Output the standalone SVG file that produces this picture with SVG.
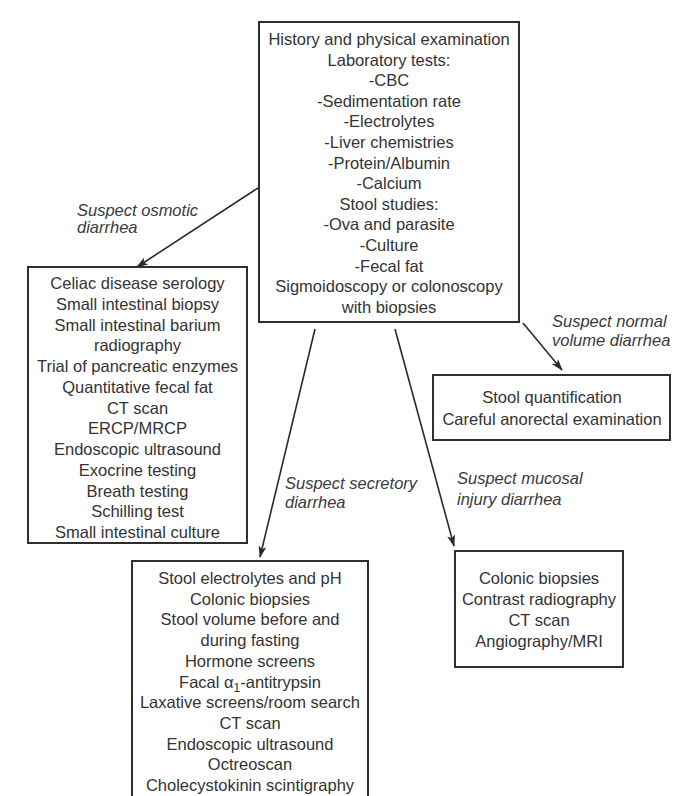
<svg xmlns="http://www.w3.org/2000/svg" width="675" height="796" viewBox="0 0 675 796">
  <defs>
    <marker id="arrow" viewBox="0 0 12 8" refX="11" refY="4" markerWidth="12" markerHeight="8" markerUnits="userSpaceOnUse" orient="auto">
      <path d="M0,0 L12,4 L0,8 L3,4 Z" fill="#2a2a2a"/>
    </marker>
  </defs>
  <style>
    .box { fill: #ffffff; stroke: #2e2e2e; stroke-width: 2; }
    .t { font-family: "Liberation Sans", Arial, sans-serif; font-size: 16.5px; fill: #333333; text-anchor: middle; }
    .lbl { font-family: "Liberation Sans", Arial, sans-serif; font-size: 16.5px; font-style: italic; fill: #3a3a3a; }
    .edge { stroke: #2a2a2a; stroke-width: 1.6; fill: none; marker-end: url(#arrow); }
  </style>
  <rect width="675" height="796" fill="#ffffff"/>

  <g id="connectors">
    <line class="edge" x1="258" y1="188" x2="137" y2="267"/>
    <line class="edge" x1="315" y1="329" x2="260" y2="557"/>
    <line class="edge" x1="395" y1="329" x2="454" y2="546"/>
    <line class="edge" x1="523" y1="323" x2="562" y2="370"/>
  </g>

  <g id="labels">
    <text class="lbl" x="77" y="216">Suspect osmotic</text>
    <text class="lbl" x="77" y="233">diarrhea</text>
    <text class="lbl" x="552" y="327">Suspect normal</text>
    <text class="lbl" x="552" y="346">volume diarrhea</text>
    <text class="lbl" x="285" y="489">Suspect secretory</text>
    <text class="lbl" x="285" y="508">diarrhea</text>
    <text class="lbl" x="457" y="484">Suspect mucosal</text>
    <text class="lbl" x="457" y="505">injury diarrhea</text>
  </g>

  <g id="workup">
    <rect class="box" x="259" y="22" width="260" height="300"/>
    <text class="t" x="389" y="45">History and physical examination</text>
    <text class="t" x="389" y="65.6">Laboratory tests:</text>
    <text class="t" x="389" y="86.2">-CBC</text>
    <text class="t" x="389" y="106.8">-Sedimentation rate</text>
    <text class="t" x="389" y="127.4">-Electrolytes</text>
    <text class="t" x="389" y="148">-Liver chemistries</text>
    <text class="t" x="389" y="168.6">-Protein/Albumin</text>
    <text class="t" x="389" y="189.2">-Calcium</text>
    <text class="t" x="389" y="209.8">Stool studies:</text>
    <text class="t" x="389" y="230.4">-Ova and parasite</text>
    <text class="t" x="389" y="251">-Culture</text>
    <text class="t" x="389" y="271.6">-Fecal fat</text>
    <text class="t" x="389" y="292.2">Sigmoidoscopy or colonoscopy</text>
    <text class="t" x="389" y="312.8">with biopsies</text>
  </g>

  <g id="osmotic">
    <rect class="box" x="28" y="267" width="219" height="276"/>
    <text class="t" x="137.5" y="289">Celiac disease serology</text>
    <text class="t" x="137.5" y="309.75">Small intestinal biopsy</text>
    <text class="t" x="137.5" y="330.5">Small intestinal barium</text>
    <text class="t" x="137.5" y="351.25">radiography</text>
    <text class="t" x="137.5" y="372">Trial of pancreatic enzymes</text>
    <text class="t" x="137.5" y="392.75">Quantitative fecal fat</text>
    <text class="t" x="137.5" y="413.5">CT scan</text>
    <text class="t" x="137.5" y="434.25">ERCP/MRCP</text>
    <text class="t" x="137.5" y="455">Endoscopic ultrasound</text>
    <text class="t" x="137.5" y="475.75">Exocrine testing</text>
    <text class="t" x="137.5" y="496.5">Breath testing</text>
    <text class="t" x="137.5" y="517.25">Schilling test</text>
    <text class="t" x="137.5" y="538">Small intestinal culture</text>
  </g>

  <g id="normal-volume">
    <rect class="box" x="433" y="375" width="237" height="65"/>
    <text class="t" x="552" y="403">Stool quantification</text>
    <text class="t" x="552" y="425">Careful anorectal examination</text>
  </g>

  <g id="mucosal">
    <rect class="box" x="455" y="551" width="168" height="116"/>
    <text class="t" x="539" y="584">Colonic biopsies</text>
    <text class="t" x="539" y="605">Contrast radiography</text>
    <text class="t" x="539" y="626">CT scan</text>
    <text class="t" x="539" y="647">Angiography/MRI</text>
  </g>

  <g id="secretory">
    <rect class="box" x="132" y="561" width="236" height="240"/>
    <text class="t" x="250" y="584">Stool electrolytes and pH</text>
    <text class="t" x="250" y="604.7">Colonic biopsies</text>
    <text class="t" x="250" y="625.4">Stool volume before and</text>
    <text class="t" x="250" y="646.1">during fasting</text>
    <text class="t" x="250" y="666.8">Hormone screens</text>
    <text class="t" x="250" y="687.5">Facal α<tspan font-size="12" dy="4">1</tspan><tspan dy="-4">-antitrypsin</tspan></text>
    <text class="t" x="250" y="708.2">Laxative screens/room search</text>
    <text class="t" x="250" y="728.9">CT scan</text>
    <text class="t" x="250" y="749.6">Endoscopic ultrasound</text>
    <text class="t" x="250" y="770.3">Octreoscan</text>
    <text class="t" x="250" y="791">Cholecystokinin scintigraphy</text>
  </g>
</svg>
